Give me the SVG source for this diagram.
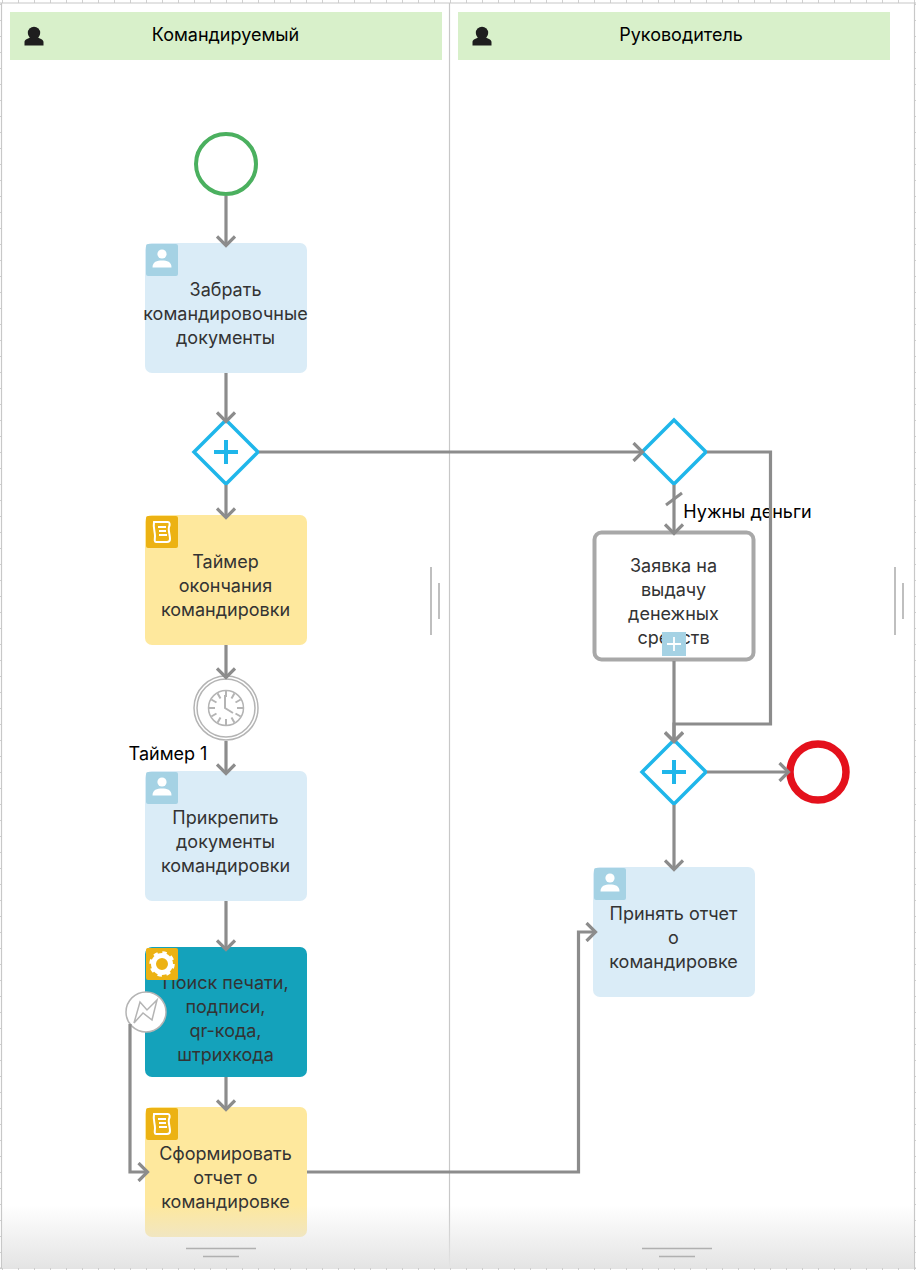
<svg xmlns="http://www.w3.org/2000/svg" width="916" height="1270" viewBox="0 0 916 1270">
<style>
text{font-family:Inter,"Liberation Sans",sans-serif;font-size:18px;text-anchor:middle}
.t{fill:#333;transform:translateX(-.5px)}
.l{fill:#000}
.c{fill:none;stroke:#8c8c8c;stroke-width:3.2;marker-end:url(#a)}
.n{fill:none;stroke:#8c8c8c;stroke-width:3}
.b{fill:#daecf7}.y{fill:#fee89d}.ib{fill:#a5d2e4}.iy{fill:#ecb213}
.gw{fill:#fff;stroke:#1fb6ea;stroke-width:3.5}
.plus{fill:none;stroke:#1fb6ea;stroke-width:4}
.hdr{fill:#d8f0ca}
.div{stroke:#c8c8c8;stroke-width:1.2;fill:none}
.grip{stroke:#b0b0b0;stroke-width:1.6;fill:none}
.w{fill:none;stroke:#fff;stroke-width:1.8}
</style>
<defs>
<marker id="a" markerUnits="userSpaceOnUse" markerWidth="20" markerHeight="20" refX="15" refY="10" orient="auto">
<path d="M6.500 1L15.500 10L6.500 19" fill="none" stroke="#8c8c8c" stroke-width="3.200"/>
</marker>
<linearGradient id="fade" x1="0" y1="0" x2="0" y2="1">
<stop offset="0" stop-color="#e4e4e4" stop-opacity="0"/>
<stop offset="1" stop-color="#e4e4e4" stop-opacity="1"/>
</linearGradient>
<pattern id="tx" width="16" height="6" patternUnits="userSpaceOnUse" x="2" y="0"><rect width="1" height="6" fill="#d0d0d0"/></pattern>
<pattern id="ty" width="6" height="16" patternUnits="userSpaceOnUse" x="0" y="4"><rect width="6" height="1" fill="#d0d0d0"/></pattern>
<g id="person"><circle cx="0" cy="-5" r="4.600" fill="#fff"/><path d="M-9.500 8.500C-9.500 2.500-5 1.500 0 1.500S9.500 2.500 9.500 8.500Z" fill="#fff"/></g>
<g id="scroll"><path d="M-8-10H6C8-10 8-7 7-5C6-2 8 3 8 7C8 9 7 10 5 10H-6C-8 10-7 6-7 4C-7 0-9-5-8-10Z" fill="none" stroke="#fff" stroke-width="2"/><path d="M-4-5H4M-3-1H4M-3 3H5" stroke="#fff" stroke-width="2"/></g>
<g id="hd"><circle cx="0" cy="-3" r="6.200" fill="#1e1e1e"/><path d="M-9.500 9.500V6C-9.500 3-5 2.500-3 1H3C5 2.500 9.500 3 9.500 6V9.500Z" fill="#1e1e1e"/></g>
</defs>
<rect width="916" height="1270" fill="#fff"/>
<g id="rulers">
<rect x="0" y="0" width="916" height="3" fill="url(#tx)"/>
<rect x="0" y="1267" width="916" height="3" fill="url(#tx)"/>
<rect x="0" y="0" width="2" height="1270" fill="url(#ty)"/>
<rect x="914" y="0" width="2" height="1270" fill="url(#ty)"/>
<path class="div" d="M0 3H916M1.500 3V1268M449.500 3V1268M914.500 3V1268M0 1268H916"/>
</g>
<g id="lane-komandiruemy"><rect class="hdr" x="10" y="12" width="432" height="48"/><use href="#hd" x="34" y="36"/><text class="l" x="225.500" y="41">Командируемый</text></g>
<g id="lane-rukovoditel"><rect class="hdr" x="458" y="12" width="432" height="48"/><use href="#hd" x="482" y="36"/><text class="l" x="681" y="41">Руководитель</text></g>
<g id="grips">
<path class="grip" d="M431 567V635M439 583V619M895 567V635M903 583V619"/>
</g>
<g id="start"><circle cx="226" cy="164" r="30" fill="#fff" stroke="#4bb05f" stroke-width="4"/></g>
<g id="task-zabrat"><rect class="b" x="145" y="243" width="162" height="130" rx="7"/><rect class="ib" x="146" y="244" width="32" height="32" rx="2"/><use href="#person" x="162" y="259"/><text class="t" x="226" y="296">Забрать</text><text class="t" x="226" y="320">командировочные</text><text class="t" x="226" y="344">документы</text></g>
<g id="gw-split"><path class="gw" d="M226 420L258 452L226 484L194 452Z"/><path class="plus" d="M226 440V464M214 452H238"/></g>
<g id="task-timer"><rect class="y" x="145" y="515" width="162" height="130" rx="7"/><rect class="iy" x="146" y="516" width="32" height="32" rx="2"/><use href="#scroll" x="162" y="532"/><text class="t" x="226" y="568">Таймер</text><text class="t" x="226" y="592">окончания</text><text class="t" x="226" y="616">командировки</text></g>
<g id="timer-event"><circle cx="226" cy="708" r="32" fill="#fff" stroke="#b4b4b4" stroke-width="1.500"/><circle cx="226" cy="708" r="29" fill="#fff" stroke="#b4b4b4" stroke-width="1.500"/><circle cx="226" cy="708" r="17.500" fill="none" stroke="#b4b4b4" stroke-width="1.500"/><path d="M226 691V697M226 719V725M209 708H215M237 708H243M217.500 693.300L220.500 698.500M231.500 717.500L234.500 722.700M211.300 699.500L216.500 702.500M235.500 713.500L240.700 716.500M211.300 716.500L216.500 713.500M235.500 702.500L240.700 699.500M217.500 722.700L220.500 717.500M231.500 698.500L234.500 693.300" stroke="#b4b4b4" stroke-width="2" fill="none"/><path d="M225 695V708L233 713" fill="none" stroke="#b4b4b4" stroke-width="2"/></g>
<g id="label-timer"><text class="l" x="168" y="760">Таймер 1</text></g>
<g id="task-prikrepit"><rect class="b" x="145" y="771" width="162" height="130" rx="7"/><rect class="ib" x="146" y="772" width="32" height="32" rx="2"/><use href="#person" x="162" y="787"/><text class="t" x="226" y="824">Прикрепить</text><text class="t" x="226" y="848">документы</text><text class="t" x="226" y="872">командировки</text></g>
<g id="task-poisk"><rect fill="#14a2bb" x="145" y="947" width="162" height="130" rx="7"/><text class="t" x="226" y="989">Поиск печати,</text><text class="t" x="226" y="1013">подписи,</text><text class="t" x="226" y="1037">qr-кода,</text><text class="t" x="226" y="1061">штрихкода</text><rect class="iy" x="146" y="948" width="32" height="32" rx="2"/><g transform="translate(162 964)"><circle r="8.500" fill="none" stroke="#fff" stroke-width="5"/><circle r="11" fill="none" stroke="#fff" stroke-width="3.500" stroke-dasharray="4.200 4.440"/></g></g>
<g id="error-event"><circle cx="146" cy="1012" r="20" fill="#fff" stroke="#b4b4b4" stroke-width="1.500"/><path d="M134 1023L140 1002L147 1010L157 1000L152 1020L143 1013Z" fill="none" stroke="#b4b4b4" stroke-width="1.500"/></g>
<g id="task-sformirovat"><rect class="y" x="145" y="1107" width="162" height="130" rx="7"/><rect class="iy" x="146" y="1108" width="32" height="32" rx="2"/><use href="#scroll" x="162" y="1124"/><text class="t" x="226" y="1160">Сформировать</text><text class="t" x="226" y="1184">отчет о</text><text class="t" x="226" y="1208">командировке</text></g>
<g id="gw-xor"><path class="gw" d="M674 420L706 452L674 484L642 452Z"/></g>
<g id="label-money"><text class="l" x="747.500" y="518">Нужны деньги</text></g>
<g id="task-zayavka"><rect x="594.500" y="532.500" width="159" height="127" rx="7" fill="#fff" stroke="#a8a8a8" stroke-width="4"/><text class="t" x="674" y="572">Заявка на</text><text class="t" x="674" y="596">выдачу</text><text class="t" x="674" y="620">денежных</text><text class="t" x="674" y="644">средств</text><rect class="ib" x="662" y="632" width="24" height="24"/><path class="w" d="M674 637V651M667 644H681"/></g>
<g id="gw-join"><path class="gw" d="M674 740L706 772L674 804L642 772Z"/><path class="plus" d="M674 760V784M662 772H686"/></g>
<g id="end"><circle cx="818" cy="772" r="28" fill="#fff" stroke="#e4111c" stroke-width="7.500"/></g>
<g id="task-prinyat"><rect class="b" x="593" y="867" width="162" height="130" rx="7"/><rect class="ib" x="594" y="868" width="32" height="32" rx="2"/><use href="#person" x="610" y="883"/><text class="t" x="674" y="920">Принять отчет</text><text class="t" x="674" y="944">о</text><text class="t" x="674" y="968">командировке</text></g>
<g id="connectors">
<path class="c" d="M226 196V245"/>
<path class="c" d="M226 373V421"/>
<path class="c" d="M226 485V517"/>
<path class="c" d="M226 645V677"/>
<path class="c" d="M226 741V773"/>
<path class="c" d="M226 901V949"/>
<path class="c" d="M226 1077V1109"/>
<path class="c" d="M130 1024V1172H147"/>
<path class="c" d="M259 452H642"/>
<path class="c" d="M674 485V533"/>
<path class="n" d="M666 505L682 493"/>
<path class="c" d="M707 452H770.500V724H674V741"/>
<path class="c" d="M674 661V741"/>
<path class="c" d="M707 772H788"/>
<path class="c" d="M674 805V869"/>
<path class="c" d="M307 1172H578.500V932H595"/>
</g>
<g id="bottom-fade"><rect x="2" y="1205" width="912" height="63" fill="url(#fade)"/><path class="grip" d="M186 1248.500H256M203 1256.500H239M642 1248.500H712M659 1256.500H695"/></g>
</svg>
